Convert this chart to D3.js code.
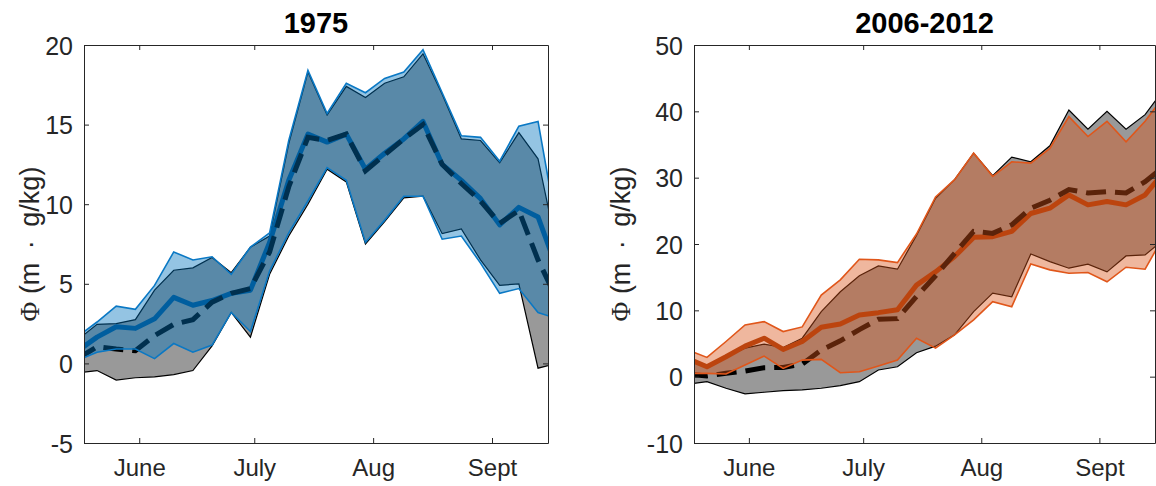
<!DOCTYPE html>
<html>
<head>
<meta charset="utf-8">
<script src="https://cdn.jsdelivr.net/npm/d3@7"></script>
<style>
  body { margin: 0; background: #fff; }
  svg { display: block; font-family: "Liberation Sans", Arial, Helvetica, sans-serif; }
</style>
</head>
<body>
<svg width="1156" height="486"></svg>
<script>
// pentad days of year (first and last fall just outside the axes and get clipped)
const days = [136, 141, 146, 151, 156, 161, 166, 171, 176, 181, 186, 191, 196,
              201, 206, 211, 216, 221, 226, 231, 236, 241, 246, 251, 256, 261];
const monthTicks = [152, 182, 213, 244];
const monthLabels = ["June", "July", "Aug", "Sept"];

// 1975
const blueHi   = [1.7, 2.6, 3.6, 3.4, 4.9, 7.0, 6.5, 6.7, 5.6, 7.3, 8.2, 14.0, 18.4,
                  15.7, 17.6, 17.0, 17.9, 18.3, 19.7, 17.0, 14.3, 14.2, 12.7, 14.9, 15.2, 8.4];
const blueLo   = [0.2, 0.7, 0.9, 0.9, 0.3, 1.25, 0.7, 1.15, 3.2, 2.0, 5.8, 8.2, 10.2,
                  12.3, 11.5, 7.6, 9.0, 10.5, 10.5, 7.8, 8.0, 6.3, 4.4, 4.7, 3.2, 2.8];
const blueMean = [0.8, 1.65, 2.3, 2.2, 2.8, 4.15, 3.65, 3.95, 4.4, 4.6, 7.6, 11.5, 14.4,
                  13.9, 14.4, 12.2, 13.2, 14.1, 15.2, 12.5, 11.5, 10.35, 8.7, 9.8, 9.2, 5.9];
const grayHi75 = [1.5, 2.45, 2.5, 2.75, 4.6, 5.85, 6.0, 6.65, 5.7, 7.3, 8.0, 13.8, 18.3,
                  15.6, 17.4, 16.7, 17.6, 18.0, 19.45, 16.9, 14.1, 14.0, 12.6, 14.5, 12.85, 7.1];
const grayLo75 = [-0.6, -0.45, -1.05, -0.9, -0.85, -0.7, -0.45, 1.1, 3.2, 1.65, 5.6, 8.0, 10.0,
                  12.2, 11.4, 7.5, 8.9, 10.4, 10.5, 8.15, 8.45, 6.5, 4.9, 5.0, -0.3, 0.0];
const dash75   = [0.3, 1.05, 0.9, 0.8, 1.75, 2.45, 2.75, 3.85, 4.4, 4.7, 7.0, 11.1, 14.2,
                  14.0, 14.4, 12.1, 13.1, 14.1, 15.0, 12.5, 11.3, 10.2, 8.8, 9.6, 6.5, 4.0];

// 2006-2012
const orangeHi   = [4.0, 2.9, 5.3, 7.8, 8.3, 6.8, 7.5, 12.3, 14.6, 17.7, 17.6, 17.2, 21.5,
                    27.1, 29.7, 33.7, 30.2, 32.4, 32.2, 34.4, 39.2, 36.2, 38.5, 35.4, 38.5, 42.3];
const orangeLo   = [0.5, 0.5, 0.4, 1.75, 3.1, 1.25, 2.5, 2.6, 0.6, 0.75, 1.6, 2.5, 5.8,
                    4.3, 6.3, 8.55, 11.3, 10.55, 17.0, 16.1, 15.6, 15.7, 14.3, 16.5, 16.2, 21.3];
const orangeMean = [2.7, 1.5, 3.0, 4.6, 5.8, 4.1, 5.3, 7.45, 7.95, 9.3, 9.65, 10.1, 13.8,
                    15.8, 18.1, 21.0, 21.1, 21.9, 24.6, 25.4, 27.4, 25.9, 26.4, 25.9, 27.4, 30.9];
const grayHi06   = [2.8, 1.35, 3.0, 4.3, 4.9, 4.4, 5.8, 9.8, 12.8, 15.2, 16.7, 16.2, 21.3,
                    26.9, 29.7, 33.7, 30.3, 33.1, 32.4, 34.8, 40.2, 37.3, 40.0, 37.3, 39.5, 43.4];
const grayLo06   = [-1.15, -0.75, -1.75, -2.6, -2.35, -2.1, -2.0, -1.75, -1.35, -0.75, 1.0, 1.5, 3.6,
                    4.6, 6.3, 9.8, 12.6, 12.05, 18.5, 17.35, 16.35, 16.95, 15.8, 18.2, 18.35, 20.7];
const dash06     = [0.4, 0.1, 0.5, 0.85, 1.35, 1.4, 1.9, 4.0, 5.4, 7.1, 8.65, 8.75, 12.1,
                    15.2, 18.6, 21.9, 21.6, 22.9, 25.4, 26.6, 28.2, 27.7, 27.9, 27.7, 29.4, 31.7];

const svg = d3.select("svg");
const plotTop = 45, plotBottom = 443;
const xDomain = [137.6, 258.6];
const axisColor = "#262626";

function drawPanel(p) {
  const x = d3.scaleLinear().domain(xDomain).range([p.left, p.right]);
  const y = d3.scaleLinear().domain(p.yDomain).range([plotBottom, plotTop]);

  const rows = days.map((d, i) => ({
    day: d, hi: p.hi[i], lo: p.lo[i], mean: p.mean[i],
    ghi: p.grayHi[i], glo: p.grayLo[i], dash: p.dash[i]
  }));

  svg.append("clipPath").attr("id", "clip-" + p.id)
    .append("rect")
    .attr("x", p.left).attr("y", plotTop)
    .attr("width", p.right - p.left).attr("height", plotBottom - plotTop);

  const plot = svg.append("g").attr("clip-path", `url(#clip-${p.id})`);

  const lineOf = key => d3.line().x(d => x(d.day)).y(d => y(d[key]));

  // gray band
  plot.append("path").datum(rows)
    .attr("d", d3.area().x(d => x(d.day)).y0(d => y(d.glo)).y1(d => y(d.ghi)))
    .attr("fill", "#999999");
  ["ghi", "glo"].forEach(k => plot.append("path").datum(rows)
    .attr("d", lineOf(k)).attr("fill", "none")
    .attr("stroke", "#000").attr("stroke-width", 1.2));

  // coloured mean, then black dashed mean
  plot.append("path").datum(rows)
    .attr("d", lineOf("mean")).attr("fill", "none")
    .attr("stroke", p.meanColor).attr("stroke-width", 5)
    .attr("stroke-linejoin", "round");
  plot.append("path").datum(rows)
    .attr("d", lineOf("dash")).attr("fill", "none")
    .attr("stroke", "#000").attr("stroke-width", 5)
    .attr("stroke-dasharray", "20,9");

  // coloured band on top, semi transparent
  plot.append("path").datum(rows)
    .attr("d", d3.area().x(d => x(d.day)).y0(d => y(d.lo)).y1(d => y(d.hi)))
    .attr("fill", p.color).attr("fill-opacity", 0.42);
  ["hi", "lo"].forEach(k => plot.append("path").datum(rows)
    .attr("d", lineOf(k)).attr("fill", "none")
    .attr("stroke", p.edgeColor).attr("stroke-width", 1.6));

  // axes box with inward ticks
  const styleAxis = sel => {
    sel.select(".domain").attr("stroke", axisColor);
    sel.selectAll(".tick line").attr("stroke", axisColor);
    sel.selectAll(".tick text").attr("fill", axisColor).style("font-size", "25px")
      .style("font-family", "Liberation Sans, Arial, sans-serif");
  };

  svg.append("g").attr("transform", `translate(0,${plotBottom})`)
    .call(d3.axisBottom(x).tickValues(monthTicks).tickFormat((d, i) => monthLabels[i])
      .tickSizeInner(-5).tickSizeOuter(0).tickPadding(16))
    .call(styleAxis)
    .selectAll(".tick text").style("font-size", "24px");
  svg.append("g").attr("transform", `translate(0,${plotTop})`)
    .call(d3.axisTop(x).tickValues(monthTicks).tickFormat("")
      .tickSizeInner(-5).tickSizeOuter(0))
    .call(styleAxis);
  svg.append("g").attr("transform", `translate(${p.left},0)`)
    .call(d3.axisLeft(y).tickValues(p.yTicks).tickFormat(d => d < 0 ? "-" + (-d) : "" + d)
      .tickSizeInner(-5).tickSizeOuter(0).tickPadding(11))
    .call(styleAxis)
    .selectAll(".tick text").attr("dy", "0.36em");
  svg.append("g").attr("transform", `translate(${p.right},0)`)
    .call(d3.axisRight(y).tickValues(p.yTicks).tickFormat("")
      .tickSizeInner(-5).tickSizeOuter(0))
    .call(styleAxis);

  // title
  svg.append("text")
    .attr("x", (p.left + p.right) / 2)
    .attr("y", 33)
    .attr("text-anchor", "middle")
    .attr("font-size", "29px")
    .attr("font-weight", "bold")
    .attr("fill", "#000")
    .text(p.title);

  // y label
  const label = svg.append("text")
    .attr("transform", `translate(${p.labelX},${(plotTop + plotBottom) / 2}) rotate(-90)`)
    .attr("text-anchor", "middle")
    .attr("font-size", "27px")
    .attr("fill", axisColor);
  label.append("tspan").attr("font-family", "Liberation Serif, serif").text("Φ");
  label.append("tspan").text(" (m\u2002·\u2002g/kg)");
}

drawPanel({
  id: "a", title: "1975", left: 84, right: 548,
  yDomain: [-5, 20], yTicks: [-5, 0, 5, 10, 15, 20], labelX: 39,
  hi: blueHi, lo: blueLo, mean: blueMean,
  grayHi: grayHi75, grayLo: grayLo75, dash: dash75,
  color: "#0072BD", edgeColor: "#0a78c4", meanColor: "#00508a"
});

drawPanel({
  id: "b", title: "2006-2012", left: 694, right: 1155,
  yDomain: [-10, 50], yTicks: [-10, 0, 10, 20, 30, 40, 50], labelX: 630,
  hi: orangeHi, lo: orangeLo, mean: orangeMean,
  grayHi: grayHi06, grayLo: grayLo06, dash: dash06,
  color: "#D95319", edgeColor: "#e0561a", meanColor: "#a83a08"
});
</script>
</body>
</html>
